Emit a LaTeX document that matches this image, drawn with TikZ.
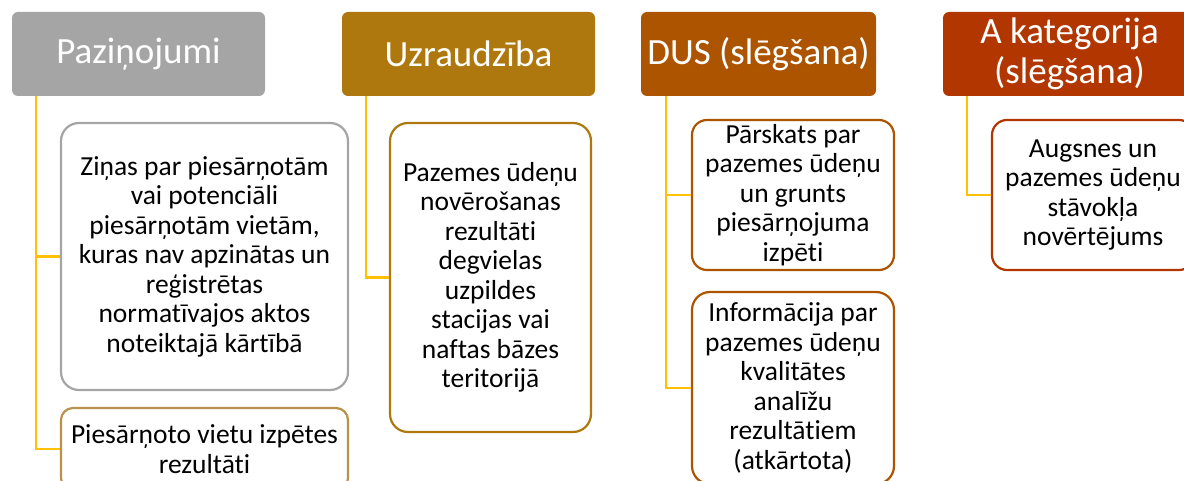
\documentclass[tikz,border=0pt]{standalone}
\usepackage{fontspec}
\setmainfont{Carlito}[Ligatures={NoCommon}]
\usepackage{xcolor}
\usepackage{tikz}

\definecolor{headgray}{HTML}{A5A5A5}
\definecolor{headochre}{HTML}{AE780F}
\definecolor{headrust}{HTML}{AD5400}
\definecolor{headbrick}{HTML}{B23600}
\definecolor{boxgold}{HTML}{B8924A}
\definecolor{linkyellow}{HTML}{FFC000}

\begin{document}
\begin{tikzpicture}[x=1pt,y=-1pt,
		head/.style={fill=#1,text=white,rounded corners=6pt,minimum height=84pt,
			inner sep=0pt,align=center,font=\fontsize{37}{40}\selectfont},
		item/.style={draw=#1,fill=white,line width=2.2pt,rounded corners=18pt,
			inner sep=0pt,align=center,font=\fontsize{27.5}{29.5}\selectfont},
		link/.style={draw=linkyellow,line width=2.4pt}]
		\clip (0,0) rectangle (1184,481);
		%
		\node[head=headgray,minimum width=253pt] (P) at (138.5,54) {Paziņojumi};
		\node[head=headochre,minimum width=253pt] (U) at (468.5,54) {Uzraudzība};
		\node[head=headrust,minimum width=235pt] (D) at (758.5,54) {DUS (slēgšana)};
		\node[head=headbrick,minimum width=253pt] (K) at (1069.5,54) {A kategorija\\(slēgšana)};
		%
		\node[item=headgray,minimum width=287pt,minimum height=267pt] (P1) at (204.5,256.5)
			{Ziņas par piesārņotām\\vai potenciāli\\piesārņotām vietām,\\kuras nav apzinātas un\\reģistrētas\\normatīvajos aktos\\noteiktajā kārtībā};
		\node[item=boxgold,minimum width=287pt,minimum height=82pt,rounded corners=12pt] (P2) at (204.5,449)
			{Piesārņoto vietu izpētes\\rezultāti};
		\node[item=headochre,minimum width=201pt,minimum height=309pt] (U1) at (490.5,277.5)
			{Pazemes ūdeņu\\novērošanas\\rezultāti\\degvielas\\uzpildes\\stacijas vai\\naftas bāzes\\teritorijā};
		\node[item=headrust,minimum width=202pt,minimum height=150pt,rounded corners=15pt] (D1) at (793,195)
			{Pārskats par\\pazemes ūdeņu\\un grunts\\piesārņojuma\\izpēti};
		\node[item=headrust,minimum width=202pt,minimum height=192pt] (D2) at (793,388)
			{Informācija par\\pazemes ūdeņu\\kvalitātes\\analīžu\\rezultātiem\\(atkārtota)};
		\node[item=headbrick,minimum width=202pt,minimum height=150pt,rounded corners=15pt] (K1) at (1093,195)
			{Augsnes un\\pazemes ūdeņu\\stāvokļa\\novērtējums};
		%
		\draw[link] ([xshift=24pt]P.south west) |- (P1.west);
		\draw[link] ([xshift=24pt]P.south west) |- (P2.west);
		\draw[link] ([xshift=24pt]U.south west) |- (U1.west);
		\draw[link] ([xshift=25pt]D.south west) |- (D1.west);
		\draw[link] ([xshift=25pt]D.south west) |- (D2.west);
		\draw[link] ([xshift=24pt]K.south west) |- (K1.west);
	\end{tikzpicture}
\end{document}
